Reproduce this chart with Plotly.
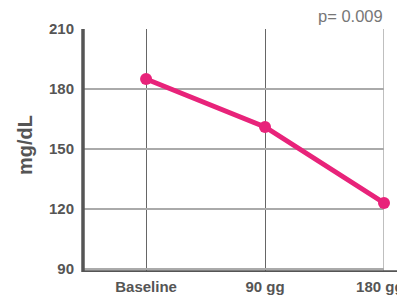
import plotly.graph_objects as go

categories = ["Baseline", "90 gg", "180 gg"]
values = [185, 161, 123]
y_ticks = [90, 120, 150, 180, 210]
p_label = "p= 0.009"
y_title = "mg/dL"

# the page body has an 8px default margin; compensate
OFF = 8
W, H = 405 - OFF, 299 - OFF
ml, mt = 83 - OFF, 29 - OFF
pw, ph = 301, 243
mr = W - ml - pw
mb = H - mt - ph

fig = go.Figure()
fig.add_trace(go.Scatter(
    x=[0, 1, 2], y=values, mode="lines+markers",
    line=dict(color="#E8237A", width=5),
    marker=dict(color="#E8237A", size=12),
    cliponaxis=False, showlegend=False,
))

# last label nudged left so it stays inside the page, as in the reference
tick_text = [f"<b>{c}</b>" for c in categories]
tick_text[-1] = tick_text[-1] + "&nbsp;&nbsp;"

ymin = 88.5
fig.update_layout(
    template="none",
    width=W, height=H,
    margin=dict(l=ml, r=mr, t=mt, b=mb, pad=0),
    paper_bgcolor="white", plot_bgcolor="white",
    font=dict(family="Liberation Sans, Arial, sans-serif", color="#555"),
    xaxis=dict(
        automargin=False,
        range=[-0.53, 2], tickmode="array", tickvals=[0, 1, 2],
        ticktext=tick_text,
        showgrid=True, gridcolor="#666", gridwidth=1,
        zeroline=False, showline=False, ticks="",
        tickfont=dict(size=15, color="#555"), ticklabelstandoff=4,
        ticklabeloverflow="allow",
    ),
    yaxis=dict(
        automargin=False,
        range=[ymin, 210], tickmode="array", tickvals=y_ticks,
        ticktext=[f"<b>{t}</b>" for t in y_ticks],
        showgrid=True, gridcolor="#aaa", gridwidth=1.5,
        zeroline=False, showline=False, ticks="",
        tickfont=dict(size=15, color="#555"), ticklabelstandoff=8,
    ),
)

# axis lines
fig.add_shape(type="line", xref="paper", yref="y", x0=0, x1=0, y0=ymin - 0.8, y1=217,
              line=dict(color="#555", width=3.5))
fig.add_shape(type="line", xref="paper", yref="y", x0=0, x1=(405 - 83) / pw, y0=ymin, y1=ymin,
              line=dict(color="#555", width=3.5))
# right border in light grey
fig.add_shape(type="line", xref="x", yref="paper", x0=2, x1=2, y0=0, y1=1,
              line=dict(color="#aaa", width=1.5), layer="below")

fig.add_annotation(text=f"<b>{y_title}</b>", xref="paper", yref="paper",
                   x=(25 - 83) / pw, y=(272 - 145) / ph,
                   textangle=-90, showarrow=False, font=dict(size=20, color="#555"),
                   xanchor="center", yanchor="middle")
fig.add_annotation(text=p_label, xref="paper", yref="paper",
                   x=1.003, y=(272 - 16) / ph,
                   showarrow=False, font=dict(size=16.5, color="#777"),
                   xanchor="right", yanchor="middle")

fig.write_html("out.html")
